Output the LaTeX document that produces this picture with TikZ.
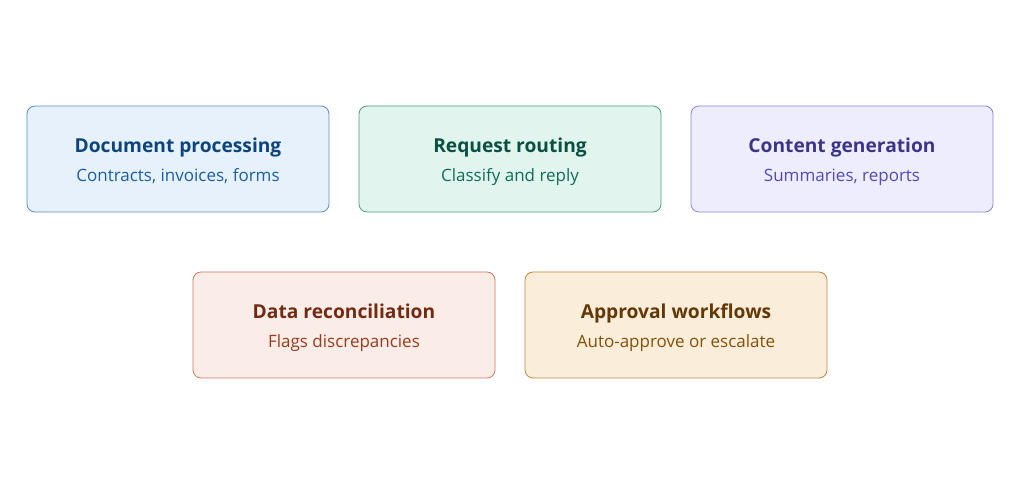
\documentclass[tikz,border=0pt]{standalone}
\usepackage{fontspec}
\setmainfont{Open Sans}
\usepackage{xcolor}
\usepackage{tikz}
\usetikzlibrary{positioning}

\definecolor{blueFill}{HTML}{E6F1FB}
\definecolor{blueLine}{HTML}{5A8FC4}
\definecolor{blueHead}{HTML}{0C447C}
\definecolor{blueText}{HTML}{185FA5}
\definecolor{greenFill}{HTML}{E1F5EE}
\definecolor{greenLine}{HTML}{4A9C7E}
\definecolor{greenHead}{HTML}{085041}
\definecolor{greenText}{HTML}{0F6E56}
\definecolor{purpleFill}{HTML}{EEEDFE}
\definecolor{purpleLine}{HTML}{8A82DA}
\definecolor{purpleHead}{HTML}{3C3489}
\definecolor{purpleText}{HTML}{534AB7}
\definecolor{coralFill}{HTML}{FAECE7}
\definecolor{coralLine}{HTML}{C97C63}
\definecolor{coralHead}{HTML}{712B13}
\definecolor{coralText}{HTML}{993C1D}
\definecolor{amberFill}{HTML}{FAEEDA}
\definecolor{amberLine}{HTML}{B98646}
\definecolor{amberHead}{HTML}{633806}
\definecolor{amberText}{HTML}{854F0B}

% title line over a subtitle line
\newcommand{\usecase}[4]{%
  {\color{#1}\fontsize{19.2}{29}\selectfont\bfseries\rule{0pt}{22pt}#3}\\
  {\color{#2}#4\rule[-5pt]{0pt}{0pt}}}

\tikzset{
  card/.style={draw=#1Line,fill=#1Fill,line width=0.8pt,rounded corners=8pt,
    minimum width=302pt,minimum height=106pt,align=center,inner sep=0pt,
    font=\fontsize{17}{29}\selectfont},
}

\begin{document}
\begin{tikzpicture}[x=1pt,y=1pt]
    % Canvas
    \useasboundingbox[fill=white] (0,0) rectangle (1024,486);

    % Top row
    \node[card=blue] (docs) at (178,327) {\usecase{blueHead}{blueText}{Document processing}{Contracts, invoices, forms}};
    \node[card=green] (routing) at (510,327) {\usecase{greenHead}{greenText}{Request routing}{Classify and reply}};
    \node[card=purple] (content) at (842,327) {\usecase{purpleHead}{purpleText}{Content generation}{Summaries, reports}};

    % Bottom row
    \node[card=coral] (recon) at (344,161) {\usecase{coralHead}{coralText}{Data reconciliation}{Flags discrepancies}};
    \node[card=amber] (approval) at (676,161) {\usecase{amberHead}{amberText}{Approval workflows}{Auto-approve or escalate}};
\end{tikzpicture}
\end{document}
